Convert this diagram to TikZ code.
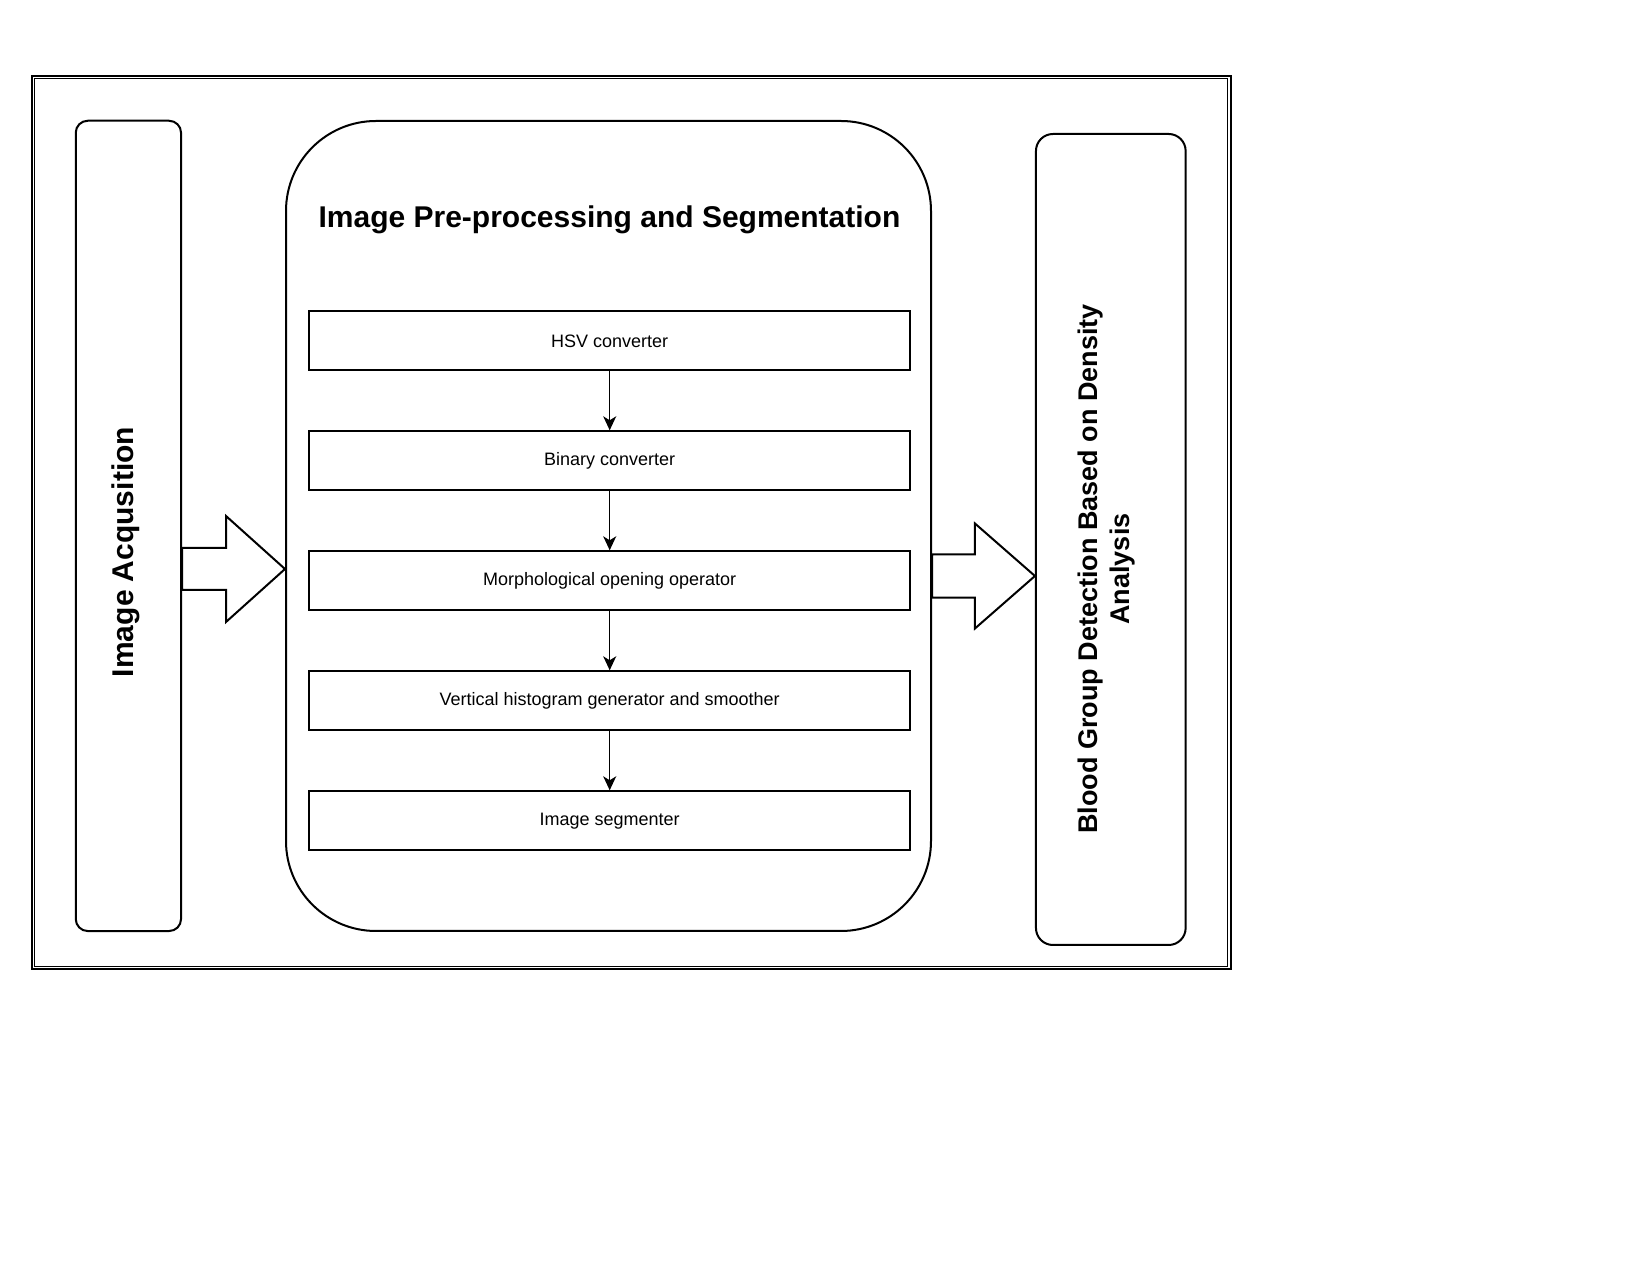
\documentclass[tikz,border=0pt]{standalone}
\usepackage{fontspec}
\setmainfont{Liberation Sans}
\usepackage{tikz}
\usetikzlibrary{arrows.meta,positioning,calc}

\begin{document}
\begin{tikzpicture}[x=0.5pt,y=-0.5pt,
   col/.style={draw,line width=1pt,inner sep=0pt},
   b/.style={draw,line width=1pt,minimum width=300.3pt,minimum height=29.6pt,inner sep=0pt,font=\fontsize{9}{11}\selectfont},
   t/.style={font=\fontsize{15}{16}\selectfont\bfseries},
   a/.style={-{Stealth[length=7pt,width=6.5pt,inset=2pt]},line width=0.65pt},
   fat/.style={draw,line width=1pt,fill=white,line join=miter}]
  \path[use as bounding box,fill=white] (0,0) rectangle (1650,1277);
  % double frame
  \draw[line width=1pt] (31.5,75.7) rectangle (1230.5,969);
  \draw[line width=0.6pt] (34.5,78.8) rectangle (1227.3,966.3);
  % the three columns
  \node[col,rounded corners=6pt,minimum width=52.65pt,minimum height=405.15pt] (acq) at (128.4,525.9) {};
  \node[col,rounded corners=45pt,minimum width=322.5pt,minimum height=405pt] (pre) at (608.5,526) {};
  \node[col,rounded corners=8.5pt,minimum width=74.85pt,minimum height=405.5pt] (blg) at (1110.8,539.5) {};
  \node[t,rotate=90] (acqtxt) at (126,552) {Image Acqusition};
  \node[t] (pretxt) at ($(pre.north)+(1,100)$) {Image Pre-processing and Segmentation};
  \node[t,font=\fontsize{13.5}{16}\selectfont\bfseries,rotate=90,align=center] (blgtxt) at (1107,569) {Blood Group Detection Based on Density\\Analysis};
  % steps
  \node[b] (hsv) at ($(pre.north)+(1.2,220.9)$) {HSV converter};
  \node[b,below=29.4pt of hsv] (bin) {Binary converter};
  \node[b,below=29.4pt of bin] (morph) {Morphological opening operator};
  \node[b,below=29.4pt of morph] (hist) {Vertical histogram generator and smoother};
  \node[b,below=29.4pt of hist] (seg) {Image segmenter};
  \draw[a] (hsv) -- (bin);
  \draw[a] (bin) -- (morph);
  \draw[a] (morph) -- (hist);
  \draw[a] (hist) -- (seg);
  % block arrows
  \coordinate (tip1) at ($(pre.west)+(0,43)$);
  \draw[fat] (tip1) -- ++(-59,-53) -- ++(0,32) coordinate (s1) -- (s1 -| acq.east)
    -- ++(0,42) coordinate (s2) -- (s1 |- s2) -- ++(0,32) -- cycle;
  \coordinate (tip2) at ($(blg.west)+(0,36.5)$);
  \draw[fat] (tip2) -- ++(-60,-52.5) -- ++(0,30.8) coordinate (r1) -- (r1 -| pre.east)
    -- ++(0,43.4) coordinate (r2) -- (r1 |- r2) -- ++(0,30.8) -- cycle;
\end{tikzpicture}
\end{document}
